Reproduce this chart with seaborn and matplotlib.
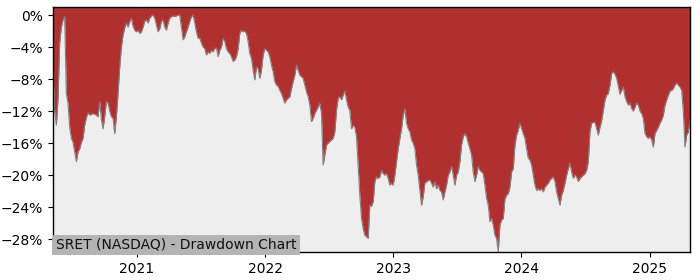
import numpy as np
import pandas as pd
import matplotlib
matplotlib.use("Agg")
import matplotlib.pyplot as plt
import matplotlib.dates as mdates
from matplotlib.ticker import FuncFormatter
import seaborn as sns

title = "SRET (NASDAQ) - Drawdown Chart"
start_date = "2020-05-07"
end_date = "2025-04-25"
year_ticks = ["2021", "2022", "2023", "2024", "2025"]
y_ticks = [0, -4, -8, -12, -16, -20, -24, -28]

drawdown = [
    -7.1, -12.0, -13.75, -10.5, -3.5, -1.5, -0.6, -0.2, -9.8, -11.0,
    -14.0, -15.4, -15.9, -17.1, -18.3, -17.1, -16.7, -15.9, -15.4, -13.75,
    -12.8, -12.2, -12.5, -12.4, -12.3, -12.4, -12.5, -12.7, -10.8, -13.0,
    -14.2, -12.7, -10.8, -11.0, -12.0, -12.7, -12.9, -14.8, -12.7, -9.8,
    -6.5, -4.0, -2.5, -1.6, -1.0, -1.5, -0.8, -0.4, -1.4, -1.9,
    -2.1, -1.9, -2.3, -2.1, -1.5, -0.8, -0.6, -1.0, -0.4, -0.1,
    0.0, -0.4, -1.25, -2.1, -1.7, -0.8, -0.6, -1.5, -1.9, -1.0,
    -0.4, -0.2, -0.1, -0.2, -0.1, 0.0, 0.0, -1.5, -3.1, -2.7,
    -2.1, -1.5, -0.8, -0.2, 0.0, -1.0, -2.1, -2.9, -2.9, -3.5,
    -4.0, -4.2, -5.0, -4.6, -4.8, -4.4, -4.6, -4.2, -4.1, -5.2,
    -4.4, -4.0, -2.9, -3.3, -4.2, -4.6, -4.8, -5.2, -5.8, -5.6,
    -5.2, -4.2, -2.3, -1.9, -2.1, -2.0, -2.3, -3.3, -4.8, -5.4,
    -6.9, -8.1, -6.5, -6.7, -7.9, -6.9, -5.0, -4.2, -4.4, -4.6,
    -5.2, -6.25, -7.1, -8.3, -8.75, -8.9, -9.4, -9.8, -10.4, -11.0,
    -10.6, -10.4, -10.2, -9.2, -8.3, -7.5, -6.25, -6.9, -7.5, -7.7,
    -7.9, -8.75, -9.6, -10.2, -11.25, -13.3, -12.9, -12.3, -11.9, -11.5,
    -11.0, -12.3, -18.75, -17.5, -16.25, -16.0, -15.8, -15.6, -15.4, -14.6,
    -11.9, -10.4, -10.2, -10.6, -10.0, -9.5, -10.6, -11.5, -11.9, -14.2,
    -13.8, -14.0, -15.2, -18.75, -22.5, -25.4, -26.7, -27.5, -27.7, -27.9,
    -23.75, -23.9, -23.3, -20.8, -20.2, -20.4, -20.2, -19.4, -19.8, -20.0,
    -19.8, -20.4, -21.25, -21.0, -21.25, -20.0, -18.3, -16.7, -15.4, -14.2,
    -12.5, -11.7, -13.5, -14.2, -14.6, -15.6, -16.0, -16.7, -18.75, -20.0,
    -21.9, -23.75, -22.7, -21.0, -20.8, -20.7, -20.6, -21.0, -21.5, -20.8,
    -21.7, -21.25, -21.9, -22.1, -23.1, -22.1, -21.25, -20.0, -19.6, -18.9,
    -20.0, -21.25, -20.0, -19.6, -18.3, -16.25, -15.2, -14.8, -15.2, -16.0,
    -16.7, -17.5, -19.6, -20.8, -20.0, -18.9, -19.4, -19.6, -19.8, -21.25,
    -22.9, -23.75, -25.8, -25.4, -26.25, -27.5, -27.9, -29.6, -26.25, -25.6,
    -25.4, -23.0, -22.5, -22.3, -21.5, -19.6, -19.2, -16.25, -15.0, -14.4,
    -13.5, -14.2, -14.8, -15.4, -16.7, -17.9, -18.1, -18.75, -20.0, -21.25,
    -21.9, -21.7, -21.9, -21.7, -22.1, -21.5, -21.25, -21.0, -20.6, -20.4,
    -20.2, -20.8, -22.1, -22.9, -23.75, -22.5, -21.9, -21.0, -20.0, -19.2,
    -18.5, -19.6, -20.4, -20.0, -20.2, -20.8, -20.4, -20.2, -20.0, -19.8,
    -19.4, -18.3, -14.6, -13.5, -13.4, -13.4, -14.2, -15.0, -14.0, -13.2,
    -11.9, -10.6, -10.0, -9.8, -8.75, -7.3, -7.1, -7.4, -7.9, -8.9,
    -9.9, -9.4, -9.0, -10.2, -10.8, -11.25, -11.0, -11.7, -12.0, -11.5,
    -11.0, -11.25, -12.0, -12.3, -12.9, -14.8, -15.2, -15.4, -15.2, -15.6,
    -16.5, -14.8, -14.4, -14.0, -13.5, -13.1, -12.5, -11.25, -10.6, -10.0,
    -9.5, -9.4, -9.2, -8.75, -8.5, -8.75, -9.0, -9.4, -12.1, -16.5,
    -15.0, -14.6, -13.1,
]

dates = pd.date_range(start_date, end_date, periods=len(drawdown))
df = pd.DataFrame({"date": dates, "drawdown": drawdown})

fig = plt.figure(figsize=(7, 2.8), dpi=100)
ax = fig.add_axes([0.0757, 0.1, 0.91, 0.875])
ax.set_facecolor("#EEEEEE")

y_top = 1.0
y_bottom = min(drawdown)

ax.fill_between(df["date"], df["drawdown"], y_top, color="#B03030", linewidth=0, zorder=2)
sns.lineplot(data=df, x="date", y="drawdown", ax=ax, color="#808080", linewidth=0.8, zorder=3)

ax.set_xlim(dates[0], dates[-1])
ax.set_ylim(y_bottom, y_top)
ax.set_yticks(y_ticks)
ax.yaxis.set_major_formatter(FuncFormatter(lambda v, p: f"{v:.0f}%".replace("-", "\u2212")))
ax.set_xticks([pd.Timestamp(f"{y}-01-01") for y in year_ticks])
ax.set_xticklabels(year_ticks)
ax.set_xlabel("")
ax.set_ylabel("")
ax.tick_params(labelsize=10)
for s in ax.spines.values():
    s.set_color("black")
    s.set_linewidth(1.0)
    s.set_zorder(5)

ax.text(0.004, 0.0, title, transform=ax.transAxes, ha="left", va="bottom",
        fontsize=10, color="#111111", zorder=6,
        bbox=dict(facecolor="#B4B4B4", edgecolor="none", pad=2.5))

fig.savefig("out.png", dpi=100)
